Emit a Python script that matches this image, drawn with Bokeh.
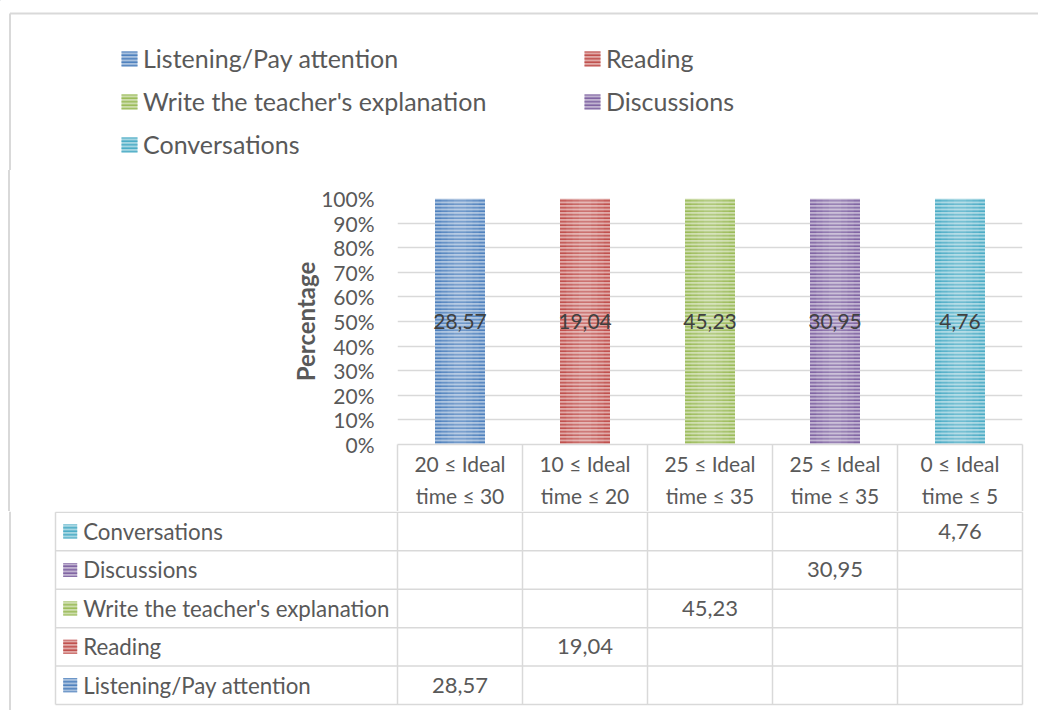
from bokeh.plotting import figure
from bokeh.models import (Range1d, Legend, LegendItem, ColumnDataSource,
                          NumeralTickFormatter, FixedTicker, Div)
from bokeh.layouts import column, row
from bokeh.embed import file_html
from bokeh.resources import INLINE
from bokeh.core.properties import value

# ---------------- data ----------------
header_labels = ["20 ≤ Ideal\ntime ≤ 30", "10 ≤ Ideal\ntime ≤ 20", "25 ≤ Ideal\ntime ≤ 35",
                 "25 ≤ Ideal\ntime ≤ 35", "0 ≤ Ideal\ntime ≤ 5"]
series_names = ["Listening/Pay attention", "Reading", "Write the teacher's explanation",
                "Discussions", "Conversations"]
listening = [28.57, None, None, None, None]
reading = [None, 19.04, None, None, None]
writing = [None, None, 45.23, None, None]
discussions = [None, None, None, 30.95, None]
conversations = [None, None, None, None, 4.76]
series_colors = ["#4F81BD", "#C0504D", "#9BBB59", "#8064A2", "#4BACC6"]
y_ticks = [0.0, 0.1, 0.2, 0.3, 0.4, 0.5, 0.6, 0.7, 0.8, 0.9, 1.0]

series_values = [listening, reading, writing, discussions, conversations]

# ---------------- styling / geometry ----------------
FONT = "Lato"
FS = "21px"
TXT = "#595959"
LBL = "#404040"
GRID = "#D9D9D9"

W = 1038
TOP_H = 170          # legend strip
MID_H = 341          # chart strip (frame + header row)
TAB_H = 199          # data table strip
STRIP_W = 20
PLOT_LEFT = 397      # left edge of the plotting frame on the page
COL_W = 125          # width of one category column
ROW_H = 38.46        # height of one data-table row
HEADER_H = 67        # height of the category header row
TAB_TOP = 0.75       # offset of the first table rule inside the table strip
BAR_W = 0.4
N = len(header_labels)


def fmt(v):
    return f"{v:.2f}".replace(".", ",")


def lighten(hex_color, f):
    h = hex_color.lstrip("#")
    r, g, b = (int(h[i:i + 2], 16) for i in (0, 2, 4))
    r, g, b = (round(c + (255 - c) * f) for c in (r, g, b))
    return f"#{r:02X}{g:02X}{b:02X}"


def bar_style(color):
    return dict(fill_color=lighten(color, 0.5), hatch_pattern="-", hatch_color=color,
                hatch_scale=3.5, hatch_weight=1.6, line_color=None)


def bare(fig):
    fig.grid.visible = False
    fig.outline_line_color = None
    fig.background_fill_color = "white"
    fig.border_fill_color = "white"
    return fig


# ---------------- legend strip ----------------
top = bare(figure(width=W, height=TOP_H, x_range=Range1d(0, W), y_range=Range1d(TOP_H, 0),
                  x_axis_location=None, y_axis_location=None, min_border=0,
                  toolbar_location=None, output_backend="svg"))
top.segment(x0=[9.5, 9.5], y0=[13, 13], x1=[W, 9.5], y1=[13, TOP_H], line_color=GRID, line_width=2)

# legend proxies: one swatch each, parked outside the visible range
legend_renderers = []
for name, color in zip(series_names, series_colors):
    r = top.vbar(x=[-100], top=[-100], bottom=[-101], width=1, **bar_style(color))
    legend_renderers.append(r)

LEG_ITEM_H = 30
LEG_SPACING = 13


def make_legend(indices, left, first_center):
    n = len(indices)
    height = n * LEG_ITEM_H + (n - 1) * LEG_SPACING
    bottom = first_center - LEG_ITEM_H / 2 + height
    return Legend(items=[LegendItem(label=series_names[i], renderers=[legend_renderers[i]])
                         for i in indices],
                  location=(left, TOP_H - bottom), orientation="vertical", padding=0, margin=0,
                  spacing=LEG_SPACING, glyph_width=20, glyph_height=19,
                  label_height=LEG_ITEM_H, label_standoff=4,
                  border_line_color=None, background_fill_alpha=0,
                  label_text_font=FONT, label_text_font_size="25px", label_text_color=TXT)


top.add_layout(make_legend([0, 2, 4], 119, 58))
top.add_layout(make_legend([1, 3], 582, 58))

# ---------------- left border strip ----------------
strip = Div(text="", width=STRIP_W, height=MID_H, margin=0,
            styles={"background": "linear-gradient(90deg, #FFFFFF 8.5px, #D9D9D9 8.5px, "
                                  "#D9D9D9 10.5px, #FFFFFF 10.5px)"})

# ---------------- 100% stacked column chart ----------------
chart = figure(width=W - STRIP_W, height=MID_H, x_range=Range1d(-0.5, N - 0.5),
               y_range=Range1d(0, 1), min_border_left=PLOT_LEFT - STRIP_W,
               min_border_right=W - PLOT_LEFT - N * COL_W, min_border_top=28,
               min_border_bottom=HEADER_H, toolbar_location=None, output_backend="svg")
chart.outline_line_color = None
chart.xgrid.visible = False
chart.ygrid.grid_line_color = GRID
chart.ygrid.grid_line_width = 1.5

yax = chart.yaxis[0]
yax.ticker = FixedTicker(ticks=y_ticks)
yax.formatter = NumeralTickFormatter(format="0%")
yax.axis_line_color = None
yax.major_tick_line_color = None
yax.minor_tick_line_color = None
yax.major_tick_out = 0
yax.minor_tick_out = 0
yax.major_label_standoff = 23
yax.major_label_text_font = FONT
yax.major_label_text_font_size = FS
yax.major_label_text_color = TXT
yax.axis_label = "Percentage"
yax.axis_label_standoff = -2
yax.axis_label_text_font = FONT
yax.axis_label_text_font_size = "24px"
yax.axis_label_text_font_style = "bold"
yax.axis_label_text_color = TXT

# x axis doubles as the header row of the data table: minor ticks are the cell borders
xax = chart.xaxis[0]
xax.ticker = FixedTicker(ticks=list(range(N)), minor_ticks=[i - 0.5 for i in range(N + 1)])
xax.major_label_overrides = {i: lab for i, lab in enumerate(header_labels)}
xax.axis_line_color = GRID
xax.axis_line_width = 1.5
xax.major_tick_line_color = None
xax.major_tick_out = 0
xax.major_tick_in = 0
xax.minor_tick_line_color = GRID
xax.minor_tick_line_width = 1.5
xax.minor_tick_in = 0
xax.minor_tick_out = HEADER_H
xax.major_label_standoff = 6 - HEADER_H
xax.major_label_text_font = FONT
xax.major_label_text_font_size = FS
xax.major_label_text_color = TXT
xax.major_label_text_line_height = 1.3

totals = [sum((vals[i] or 0) for vals in series_values) for i in range(N)]
base = [0.0] * N
for name, vals, color in zip(series_names, series_values, series_colors):
    xs, bot, tp, mid, lab = [], [], [], [], []
    for i, v in enumerate(vals):
        if v:
            frac = v / totals[i]
            xs.append(i)
            bot.append(base[i])
            tp.append(base[i] + frac)
            mid.append(base[i] + frac / 2)
            lab.append(fmt(v))
            base[i] += frac
    src = ColumnDataSource(dict(x=xs, bottom=bot, top=tp, mid=mid, label=lab))
    chart.vbar(x="x", bottom="bottom", top="top", width=BAR_W, source=src, **bar_style(color))
    # soft highlight towards the middle of each column
    for frac_w in (0.75, 0.5, 0.25):
        chart.vbar(x="x", bottom="bottom", top="top", width=BAR_W * frac_w, source=src,
                   fill_color="white", fill_alpha=0.07, line_color=None)
    chart.text(x="x", y="mid", text="label", source=src, text_align="center",
               text_baseline="middle", text_font=value(FONT), text_font_size=FS,
               text_color=LBL)

# ---------------- data table ----------------
X0 = -0.5 - PLOT_LEFT / COL_W
table = bare(figure(width=W, height=TAB_H, x_range=Range1d(X0, X0 + W / COL_W),
                    y_range=Range1d((TAB_H - TAB_TOP) / ROW_H, -TAB_TOP / ROW_H),
                    x_axis_location=None, y_axis_location=None, min_border=0,
                    toolbar_location=None, output_backend="svg"))

n_rows = len(series_names)
t_left = X0 + 55 / COL_W
t_right = N - 0.5
h_y = list(range(n_rows + 1))
table.segment(x0=[t_left] * len(h_y), y0=h_y, x1=[t_right] * len(h_y), y1=h_y,
              line_color=GRID, line_width=1.5)
v_x = [t_left] + [i - 0.5 for i in range(N + 1)]
table.segment(x0=v_x, y0=[0] * len(v_x), x1=v_x, y1=[n_rows] * len(v_x),
              line_color=GRID, line_width=1.5)
table.segment(x0=[X0 + 9.5 / COL_W], y0=[-TAB_TOP / ROW_H], x1=[X0 + 9.5 / COL_W],
              y1=[(TAB_H - TAB_TOP) / ROW_H], line_color=GRID, line_width=2)

for j, (name, vals, color) in enumerate(zip(series_names, series_values, series_colors)):
    rc = n_rows - 1 - j + 0.5
    table.rect(x=[X0 + 69.7 / COL_W], y=[rc], width=14, height=14, width_units="screen",
               height_units="screen", **bar_style(color))
    table.text(x=[X0 + 82.7 / COL_W], y=[rc], text=[name], text_align="left",
               text_baseline="middle", text_font=value(FONT), text_font_size="22.3px",
               text_color=TXT)
    xs = [i for i, v in enumerate(vals) if v is not None]
    table.text(x=xs, y=[rc] * len(xs), text=[fmt(vals[i]) for i in xs], text_align="center",
               text_baseline="middle", text_font=value(FONT), text_font_size="22px",
               text_color=TXT)

layout = column(top, row(strip, chart), table)
open("out.html", "w").write(file_html(layout, INLINE))
